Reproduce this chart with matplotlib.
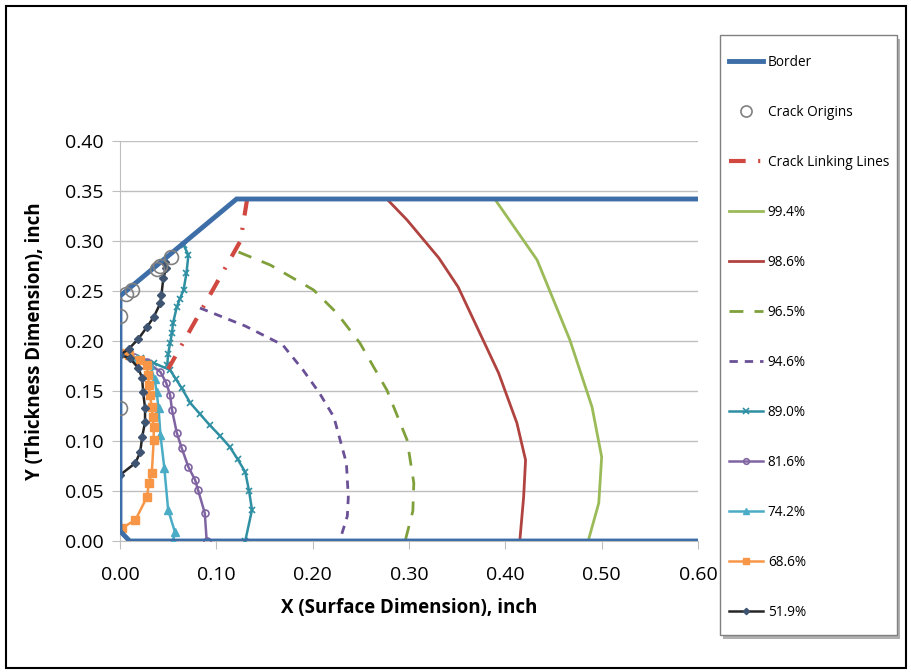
import numpy as np
import matplotlib
matplotlib.use("Agg")
import matplotlib.pyplot as plt
from matplotlib.patches import Rectangle

plt.rcParams['font.family'] = ['Open Sans', 'DejaVu Sans']

# border of the section
border_x = [0.60, 0.010, 0.0, 0.0, 0.121, 0.60]
border_y = [0.0, 0.0, 0.010, 0.245, 0.342, 0.342]

# crack origins
origin_x = [0.0, 0.0, 0.006, 0.012, 0.038, 0.042, 0.053]
origin_y = [0.225, 0.133, 0.247, 0.251, 0.272, 0.275, 0.284]

# crack linking lines
link_x = [0.132, 0.125, 0.050]
link_y = [0.342, 0.300, 0.172]

# 99.4%
c994_x = [0.389, 0.433, 0.467, 0.490, 0.500, 0.497, 0.486]
c994_y = [0.342, 0.281, 0.201, 0.134, 0.084, 0.038, 0.0]

# 98.6%
c986_x = [0.277, 0.298, 0.331, 0.351, 0.393, 0.412, 0.421, 0.419, 0.415]
c986_y = [0.342, 0.321, 0.283, 0.254, 0.168, 0.118, 0.081, 0.044, 0.0]

# 96.5%
c965_x = [0.123, 0.156, 0.201, 0.225, 0.249, 0.277, 0.298, 0.305, 0.304, 0.296]
c965_y = [0.289, 0.276, 0.251, 0.228, 0.198, 0.151, 0.101, 0.058, 0.030, 0.0]

# 94.6%
c946_x = [0.083, 0.130, 0.169, 0.190, 0.207, 0.222, 0.235, 0.237, 0.236, 0.228]
c946_y = [0.233, 0.215, 0.196, 0.171, 0.148, 0.124, 0.078, 0.044, 0.025, 0.0]

# 89.0%
c890_x = [0.066, 0.071, 0.069, 0.066, 0.062, 0.059, 0.055, 0.054, 0.052, 0.050, 0.049, np.nan,
          0.022, 0.035, 0.052, 0.058, 0.064, 0.073, 0.083, 0.093, 0.104, 0.114, 0.122, 0.130, 0.134, 0.137, 0.130]
c890_y = [0.296, 0.286, 0.268, 0.251, 0.242, 0.234, 0.218, 0.208, 0.198, 0.187, 0.176, np.nan,
          0.183, 0.178, 0.171, 0.162, 0.153, 0.138, 0.127, 0.116, 0.105, 0.094, 0.082, 0.069, 0.050, 0.031, 0.0]

# 81.6%
c816_x = [0.015, 0.028, 0.042, 0.048, 0.052, 0.054, 0.059, 0.064, 0.071, 0.078, 0.081, 0.088, 0.090]
c816_y = [0.184, 0.179, 0.169, 0.158, 0.146, 0.131, 0.108, 0.093, 0.074, 0.061, 0.051, 0.028, 0.0]

# 74.2%
c742_x = [0.0, 0.018, 0.031, 0.036, 0.038, 0.040, 0.042, 0.046, 0.050, 0.057, 0.055]
c742_y = [0.188, 0.183, 0.176, 0.162, 0.149, 0.133, 0.106, 0.073, 0.031, 0.009, 0.0]

# 68.6%
c686_x = [0.0, 0.009, 0.021, 0.028, 0.029, 0.030, 0.031, 0.033, 0.034, 0.035, 0.035, 0.033,
          0.030, 0.028, 0.016, 0.002]
c686_y = [0.188, 0.186, 0.181, 0.176, 0.166, 0.156, 0.146, 0.134, 0.124, 0.114, 0.101, 0.068,
          0.058, 0.044, 0.021, 0.013]

# 51.9%
c519_x = [0.047, 0.048, 0.045, 0.043, 0.042, 0.035, 0.028, 0.019, 0.009, 0.0,
          0.010, 0.019, 0.023, 0.024, 0.026, 0.026, 0.023, 0.021, 0.016, 0.0]
c519_y = [0.279, 0.273, 0.263, 0.246, 0.238, 0.224, 0.214, 0.202, 0.192, 0.186,
          0.183, 0.173, 0.163, 0.149, 0.133, 0.119, 0.104, 0.089, 0.078, 0.066]

fig = plt.figure(figsize=(9.12, 6.72), dpi=100)
ax = fig.add_axes([120 / 912, 1 - 541 / 672, 578 / 912, 400 / 672])

ax.plot(c994_x, c994_y, color='#9BBB59', lw=2, label='99.4%', zorder=3)
ax.plot(c986_x, c986_y, color='#B0433F', lw=2, label='98.6%', zorder=3)
ax.plot(c965_x, c965_y, color='#7FA03B', lw=2, ls=(0, (5, 4)), label='96.5%', zorder=3)
ax.plot(c946_x, c946_y, color='#6A5096', lw=2, ls=(0, (3, 2.5)), label='94.6%', zorder=3)
ax.plot(c890_x, c890_y, color='#2F8FA3', lw=1.8, marker='x', ms=5, mew=1.2, label='89.0%', zorder=4)
ax.plot(c816_x, c816_y, color='#8064A2', lw=1.8, marker='o', ms=5, mfc='none', mew=1.2,
        label='81.6%', zorder=4)
ax.plot(c742_x, c742_y, color='#4BACC6', lw=1.8, marker='^', ms=6, label='74.2%', zorder=4)
ax.plot(c686_x, c686_y, color='#F79646', lw=1.8, marker='s', ms=6, label='68.6%', zorder=5)
ax.plot(c519_x, c519_y, color='#262626', lw=1.8, marker='D', ms=4, mfc='#3F5470', mec='#3F5470',
        label='51.9%', zorder=6)
ax.plot(link_x, link_y, color='#D04840', lw=3, ls=(0, (4, 3, 0.5, 3)), label='Crack Linking Lines', zorder=4)
ax.plot(border_x, border_y, color='#3D6EA8', lw=3.5, label='Border', zorder=7, solid_joinstyle='miter')
ax.plot(origin_x, origin_y, ls='none', marker='o', ms=10, mfc='none', mec='#808080', mew=1.2,
        label='Crack Origins', zorder=8)

ax.set_xlim(0.0, 0.60)
ax.set_ylim(0.0, 0.40)
ax.set_xticks(np.arange(0, 0.61, 0.1))
ax.set_yticks(np.arange(0, 0.401, 0.05))
ax.xaxis.set_major_formatter(matplotlib.ticker.FormatStrFormatter('%.2f'))
ax.yaxis.set_major_formatter(matplotlib.ticker.FormatStrFormatter('%.2f'))
ax.tick_params(labelsize=14, colors='#BFBFBF', labelcolor='black', length=6)
ax.tick_params(axis='x', pad=12)
ax.tick_params(axis='y', pad=6)
ax.grid(axis='y', color='#BFBFBF', lw=1)
ax.set_axisbelow(True)
for s in ['top', 'right']:
    ax.spines[s].set_visible(False)
for s in ['left', 'bottom']:
    ax.spines[s].set_color('#BFBFBF')
ax.set_xlabel('X (Surface Dimension), inch', fontsize=13.5, fontweight='bold', labelpad=10)
ax.set_ylabel('Y (Thickness Dimension), inch', fontsize=13.5, fontweight='bold', labelpad=14)

order = ['Border', 'Crack Origins', 'Crack Linking Lines', '99.4%', '98.6%', '96.5%', '94.6%',
         '89.0%', '81.6%', '74.2%', '68.6%', '51.9%']
hs, ls = ax.get_legend_handles_labels()
hmap = dict(zip(ls, hs))

# legend box drawn separately so the rows can be placed freely
fig.patches.append(Rectangle((723 / 912, 1 - 639 / 672), 177 / 912, 600 / 672,
                             transform=fig.transFigure, facecolor='#B0B0B0', edgecolor='none',
                             zorder=9))
fig.patches.append(Rectangle((720 / 912, 1 - 635 / 672), 177 / 912, 600 / 672,
                             transform=fig.transFigure, facecolor='white', edgecolor='#808080',
                             lw=1, zorder=10))
leg = fig.legend([hmap[k] for k in order], order, loc='upper left',
                 bbox_to_anchor=(729 / 912, 1 - 55 / 672),
                 fontsize=9.8, labelspacing=2.57, handlelength=2.5, handletextpad=0.35,
                 borderpad=0, borderaxespad=0, frameon=False, markerscale=0.8)
leg.set_zorder(11)

# outer chart frame
fig.patches.append(Rectangle((6 / 912, 4 / 672), 900 / 912, 662 / 672, transform=fig.transFigure,
                             fill=False, edgecolor='black', lw=1.5))

fig.savefig('out.png', dpi=100)
